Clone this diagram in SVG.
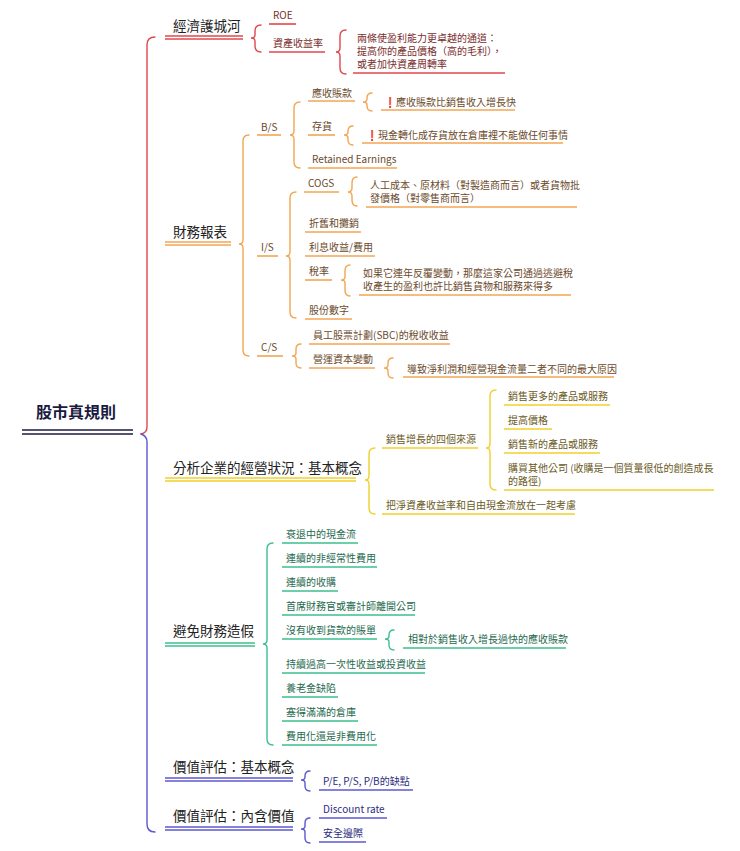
<svg xmlns="http://www.w3.org/2000/svg" width="740" height="851" viewBox="0 0 740 851">
<style>
text{font-family:"Noto Sans CJK TC","Noto Sans",sans-serif;font-size:10px}
.l1{font-size:13.5px;fill:#222}
.root{font-size:16px;font-weight:bold;fill:#1a1a40}
.br{fill:none;stroke-width:1.4;stroke-linecap:round}
.r{stroke:#e0474c}.o{stroke:#f2a652}.y{stroke:#f0d02c}.g{stroke:#3dbf8c}.p{stroke:#5b58d0}
.tr{fill:#7a2e2e}.to{fill:#6b4a2b}.ty{fill:#6a5a1e}.tg{fill:#1f6a50}.tp{fill:#2d2d80}
line{stroke-width:1.6}
</style>
<rect width="740" height="851" fill="#fff"/>
<g id="connectors">
<path class="br r" d="M155,37 Q147,37 147,45 L147,427 Q147,433 141,434"/>
<path class="br p" d="M141,434 Q147,436 147,442 L147,824 Q147,832 155,832"/>
<path class="br r" d="M261,25 Q255,25 255,31 L255,35 Q255,38 251,38 Q255,38 255,41 L255,46 Q255,52 261,52"/>
<path class="br r" d="M346,30 Q340,30 340,36 L340,48 Q340,52 336,52 Q340,52 340,56 L340,68 Q340,74 346,74"/>
<path class="br o" d="M249,135 Q243,135 243,141 L243,240 Q243,244 239,244 Q243,244 243,248 L243,350 Q243,356 249,356"/>
<path class="br o" d="M300,102 Q294,102 294,108 L294,131 Q294,135 290,135 Q294,135 294,139 L294,162 Q294,168 300,168"/>
<path class="br o" d="M372,93 Q367,93 367,98 L367,99 Q367,102 363,102 Q367,102 367,105 L367,106 Q367,111 372,111"/>
<path class="br o" d="M353,126 Q348,126 348,131 L348,132 Q348,135 344,135 Q348,135 348,138 L348,140 Q348,145 353,145"/>
<path class="br o" d="M296,192 Q290,192 290,198 L290,252 Q290,256 286,256 Q290,256 290,260 L290,312 Q290,318 296,318"/>
<path class="br o" d="M357,177 Q352,177 352,183 L352,188 Q352,192 348,192 Q352,192 352,196 L352,200 Q352,206 357,206"/>
<path class="br o" d="M350,265 Q345,265 345,271 L345,277 Q345,280 341,280 Q345,280 345,283 L345,290 Q345,296 350,296"/>
<path class="br o" d="M301,344 Q296,344 296,349 L296,353 Q296,356 292,356 Q296,356 296,359 L296,363 Q296,368 301,368"/>
<path class="br o" d="M393,358 Q388,358 388,363 L388,365 Q388,368 384,368 Q388,368 388,371 L388,373 Q388,378 393,378"/>
<path class="br y" d="M375,448 Q369,448 369,454 L369,476 Q369,480 365,480 Q369,480 369,484 L369,508 Q369,514 375,514"/>
<path class="br y" d="M496,390 Q490,390 490,396 L490,444 Q490,448 486,448 Q490,448 490,452 L490,484 Q490,490 496,490"/>
<path class="br g" d="M273,543 Q267,543 267,549 L267,640 Q267,644 263,644 Q267,644 267,648 L267,739 Q267,745 273,745"/>
<path class="br g" d="M394,630 Q389,630 389,635 L389,636 Q389,639 385,639 Q389,639 389,642 L389,645 Q389,650 394,650"/>
<path class="br p" d="M310,771 Q305,771 305,776 L305,777 Q305,780 301,780 Q305,780 305,783 L305,786 Q305,791 310,791"/>
<path class="br p" d="M310,818 Q305,818 305,823 L305,826 Q305,829 301,829 Q305,829 305,832 L305,838 Q305,843 310,843"/>
</g>
<g id="root"><text class="root" x="36" y="418">股市真規則</text>
<line x1="22" y1="430" x2="133" y2="430" stroke="#1a1a40"/><line x1="22" y1="434" x2="133" y2="434" stroke="#1a1a40"/></g>
<g id="moat"><text class="l1" x="173" y="31">經濟護城河</text>
<line class="r" x1="165" y1="36" x2="243" y2="36"/><line class="r" x1="165" y1="39" x2="243" y2="39"/>
<text class="tr" x="273" y="19">ROE</text><line class="r" x1="269" y1="24" x2="296" y2="24"/>
<text class="tr" x="273" y="47">資產收益率</text><line class="r" x1="269" y1="52" x2="325" y2="52"/>
<text class="tr" x="357" y="42">兩條使盈利能力更卓越的通道：</text>
<text class="tr" x="357" y="55">提高你的產品價格（高的毛利），</text>
<text class="tr" x="357" y="68">或者加快資產周轉率</text>
<line class="r" x1="353" y1="73" x2="505" y2="73"/></g>
<g id="fin"><text class="l1" x="173" y="237">財務報表</text>
<line class="o" x1="165" y1="242" x2="231" y2="242"/><line class="o" x1="165" y1="245" x2="231" y2="245"/>
<text class="to" x="261" y="131">B/S</text><line class="o" x1="257" y1="135" x2="281" y2="135"/>
<text class="to" x="312" y="97">應收賬款</text><line class="o" x1="308" y1="101" x2="355" y2="101"/>
<text class="to" x="384" y="106"><tspan fill="#e0202a" font-weight="bold">❗</tspan>應收賬款比銷售收入增長快</text><line class="o" x1="381" y1="110" x2="515" y2="110"/>
<text class="to" x="366" y="139"><tspan fill="#e0202a" font-weight="bold">❗</tspan>現金轉化成存貨放在倉庫裡不能做任何事情</text><line class="o" x1="362" y1="143" x2="563" y2="143"/>
<text class="to" x="312" y="130">存貨</text><line class="o" x1="308" y1="135" x2="335" y2="135"/>
<text class="to" x="312" y="163">Retained Earnings</text><line class="o" x1="308" y1="168" x2="397" y2="168"/>
<text class="to" x="261" y="251">I/S</text><line class="o" x1="257" y1="256" x2="278" y2="256"/>
<text class="to" x="308" y="187">COGS</text><line class="o" x1="304" y1="192" x2="339" y2="192"/>
<text class="to" x="370" y="189">人工成本、原材料（對製造商而言）或者貨物批</text>
<text class="to" x="370" y="202">發價格（對零售商而言）</text><line class="o" x1="366" y1="207" x2="577" y2="207"/>
<text class="to" x="309" y="227">折舊和攤銷</text><line class="o" x1="305" y1="232" x2="361" y2="232"/>
<text class="to" x="309" y="251">利息收益/費用</text><line class="o" x1="305" y1="256" x2="375" y2="256"/>
<text class="to" x="309" y="275">稅率</text><line class="o" x1="305" y1="280" x2="332" y2="280"/>
<text class="to" x="363" y="277">如果它連年反覆變動，那麼這家公司通過逃避稅</text>
<text class="to" x="363" y="290">收產生的盈利也許比銷售貨物和服務來得多</text><line class="o" x1="359" y1="295" x2="571" y2="295"/>
<text class="to" x="309" y="314">股份數字</text><line class="o" x1="305" y1="319" x2="352" y2="319"/>
<text class="to" x="261" y="351">C/S</text><line class="o" x1="257" y1="356" x2="283" y2="356"/>
<text class="to" x="313" y="339">員工股票計劃(SBC)的稅收收益</text><line class="o" x1="309" y1="344" x2="450" y2="344"/>
<text class="to" x="313" y="363">營運資本變動</text><line class="o" x1="309" y1="368" x2="375" y2="368"/>
<text class="to" x="407" y="373">導致淨利潤和經營現金流量二者不同的最大原因</text><line class="o" x1="403" y1="377" x2="614" y2="377"/></g>
<g id="analysis"><text class="l1" x="173" y="473">分析企業的經營狀況：基本概念</text>
<line class="y" x1="165" y1="478" x2="356" y2="478"/><line class="y" x1="165" y1="481" x2="356" y2="481"/>
<text class="ty" x="386" y="443">銷售增長的四個來源</text><line class="y" x1="382" y1="448" x2="478" y2="448"/>
<text class="ty" x="508" y="400">銷售更多的產品或服務</text><line class="y" x1="504" y1="405" x2="610" y2="405"/>
<text class="ty" x="508" y="424">提高價格</text><line class="y" x1="504" y1="429" x2="552" y2="429"/>
<text class="ty" x="508" y="448">銷售新的產品或服務</text><line class="y" x1="504" y1="453" x2="600" y2="453"/>
<text class="ty" x="508" y="472">購買其他公司 (收購是一個質量很低的創造成長</text>
<text class="ty" x="508" y="485">的路徑)</text><line class="y" x1="504" y1="490" x2="714" y2="490"/>
<text class="ty" x="386" y="509">把淨資產收益率和自由現金流放在一起考慮</text><line class="y" x1="382" y1="514" x2="575" y2="514"/></g>
<g id="fraud"><text class="l1" x="173" y="636">避免財務造假</text>
<line class="g" x1="165" y1="643" x2="255" y2="643"/><line class="g" x1="165" y1="646" x2="255" y2="646"/>
<text class="tg" x="286" y="538">衰退中的現金流</text><line class="g" x1="282" y1="543" x2="358" y2="543"/>
<text class="tg" x="286" y="562">連續的非經常性費用</text><line class="g" x1="282" y1="567" x2="377" y2="567"/>
<text class="tg" x="286" y="586">連續的收購</text><line class="g" x1="282" y1="591" x2="338" y2="591"/>
<text class="tg" x="286" y="610">首席財務官或審計師離開公司</text><line class="g" x1="282" y1="615" x2="415" y2="615"/>
<text class="tg" x="286" y="634">沒有收到貨款的賬單</text><line class="g" x1="282" y1="639" x2="377" y2="639"/>
<text class="tg" x="408" y="643">相對於銷售收入增長過快的應收賬款</text><line class="g" x1="403" y1="648" x2="566" y2="648"/>
<text class="tg" x="286" y="668">持續過高一次性收益或投資收益</text><line class="g" x1="282" y1="673" x2="425" y2="673"/>
<text class="tg" x="286" y="692">養老金缺陷</text><line class="g" x1="282" y1="697" x2="338" y2="697"/>
<text class="tg" x="286" y="716">塞得滿滿的倉庫</text><line class="g" x1="282" y1="721" x2="358" y2="721"/>
<text class="tg" x="286" y="740">費用化還是非費用化</text><line class="g" x1="282" y1="745" x2="377" y2="745"/></g>
<g id="val1"><text class="l1" x="173" y="772">價值評估：基本概念</text>
<line class="p" x1="165" y1="778" x2="293" y2="778"/><line class="p" x1="165" y1="781" x2="293" y2="781"/>
<text class="tp" x="323" y="785">P/E, P/S, P/B的缺點</text><line class="p" x1="319" y1="790" x2="413" y2="790"/></g>
<g id="val2"><text class="l1" x="173" y="821">價值評估：內含價值</text>
<line class="p" x1="165" y1="827" x2="293" y2="827"/><line class="p" x1="165" y1="830" x2="293" y2="830"/>
<text class="tp" x="323" y="813">Discount rate</text><line class="p" x1="319" y1="818" x2="387" y2="818"/>
<text class="tp" x="323" y="837">安全邊際</text><line class="p" x1="319" y1="842" x2="366" y2="842"/></g>
</svg>
